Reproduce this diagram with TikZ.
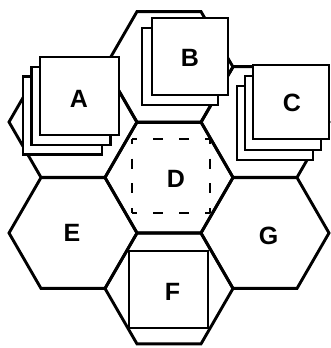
\documentclass[tikz,border=0pt]{standalone}
\usepackage{fontspec}
\setmainfont{Liberation Sans}
\usetikzlibrary{shapes.geometric}
\begin{document}
\begin{tikzpicture}[x=1pt,y=-1pt,
  hexcell/.style={regular polygon, regular polygon sides=6, minimum size=128pt,
    inner sep=0pt, outer sep=0pt, draw, line width=2.9pt},
  sheet/.style={draw, fill=white, line width=2.5pt, inner sep=0pt, outer sep=0pt},
  sqA/.style={sheet, minimum width=79pt, minimum height=78pt},
  sqB/.style={sheet, minimum width=76pt, minimum height=77pt},
  sqC/.style={sheet, minimum width=76pt, minimum height=74pt},
  sqF/.style={sheet, minimum width=79pt, minimum height=77pt},
  ghost/.style={inner sep=0pt, outer sep=0pt, minimum width=78pt, minimum height=74pt},
  dashH/.style={line width=2.2pt, dash pattern=on 10pt off 16pt, dash phase=5pt},
  dashV/.style={line width=2.2pt, dash pattern=on 10pt off 14.67pt, dash phase=5pt},
  lab/.style={font=\bfseries\fontsize{25}{30}\selectfont, inner sep=0pt}]
\useasboundingbox (0,0) rectangle (330,348);
% hexagonal cells
\node[hexcell] (hB) at (169,67) {};
\node[hexcell] (hA) at (73,122) {};
\node[hexcell] (hC) at (265,122) {};
\node[hexcell] (hD) at (169,177.5) {};
\node[hexcell] (hE) at (73,233) {};
\node[hexcell] (hG) at (265,233) {};
\node[hexcell] (hF) at (169,288.5) {};
% stacked sheets A
\node[sqA] (sA2) at (62.5,115.5) {};
\node[sqA] (sA1) at (71,105.75) {};
\node[sqA] (sA) at (79.5,96) {};
% stacked sheets B
\node[sqB] (sB1) at (180,66.5) {};
\node[sqB] (sB) at (190,56.5) {};
% stacked sheets C
\node[sqC] (sC2) at (275,123) {};
\node[sqC] (sC1) at (283,113) {};
\node[sqC] (sC) at (291,102) {};
% single sheet F
\node[sqF] (sF) at (168.5,289.5) {};
% dashed sheet D
\node[ghost] (sD) at (171,176) {};
\draw[dashH] (sD.north west) -- (sD.north east);
\draw[dashH] (sD.south west) -- (sD.south east);
\draw[dashV] (sD.north west) -- (sD.south west);
\draw[dashV] (sD.north east) -- (sD.south east);
% labels
\node[lab] (lA) at (79,99) {A};
\node[lab] (lB) at (190,58) {B};
\node[lab] (lC) at (292,102.5) {C};
\node[lab] (lD) at (176,179) {D};
\node[lab] (lE) at (72,233) {E};
\node[lab] (lG) at (268.5,236) {G};
\node[lab] (lF) at (172.5,292) {F};
\end{tikzpicture}
\end{document}
